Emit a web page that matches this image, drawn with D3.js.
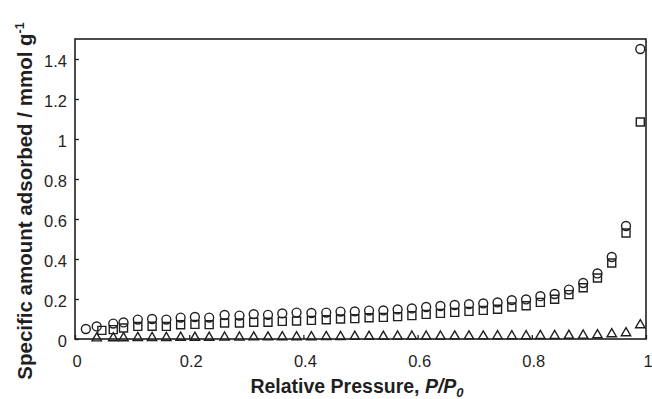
<!DOCTYPE html>
<html>
<head>
<meta charset="utf-8">
<script src="https://cdn.jsdelivr.net/npm/d3@7"></script>
<style>
  html, body { margin: 0; padding: 0; background: #fff; }
  svg { display: block; font-family: "Liberation Sans", Arial, sans-serif; }
</style>
</head>
<body>
<svg id="chart" width="652" height="399"></svg>
<script>
// Relative pressure (P/P0) for each isotherm
const circleP = [0.019, 0.038, 0.067, 0.085, 0.11, 0.135, 0.16, 0.185, 0.21, 0.235,
  0.262, 0.288, 0.313, 0.338, 0.363, 0.388, 0.414, 0.44, 0.465, 0.49,
  0.515, 0.54, 0.565, 0.59, 0.615, 0.64, 0.665, 0.69, 0.715, 0.74,
  0.765, 0.79, 0.815, 0.84, 0.865, 0.89, 0.915, 0.94, 0.965, 0.99];
const circleQ = [0.05, 0.063, 0.077, 0.083, 0.097, 0.1, 0.097, 0.107, 0.11, 0.107,
  0.12, 0.117, 0.124, 0.121, 0.128, 0.132, 0.13, 0.132, 0.137, 0.138,
  0.142, 0.143, 0.148, 0.153, 0.16, 0.165, 0.17, 0.174, 0.178, 0.183,
  0.194, 0.198, 0.214, 0.225, 0.247, 0.28, 0.328, 0.41, 0.565, 1.45];

const squareP = [0.047, 0.067, 0.085, 0.11, 0.135, 0.16, 0.185, 0.21, 0.235,
  0.262, 0.288, 0.313, 0.338, 0.363, 0.388, 0.414, 0.44, 0.465, 0.49,
  0.515, 0.54, 0.565, 0.59, 0.615, 0.64, 0.665, 0.69, 0.715, 0.74,
  0.765, 0.79, 0.815, 0.84, 0.865, 0.89, 0.915, 0.94, 0.965, 0.99];
const squareQ = [0.043, 0.047, 0.055, 0.063, 0.064, 0.063, 0.071, 0.073, 0.072,
  0.08, 0.08, 0.084, 0.084, 0.088, 0.09, 0.093, 0.096, 0.1, 0.102,
  0.106, 0.108, 0.112, 0.117, 0.123, 0.128, 0.133, 0.138, 0.143, 0.149,
  0.16, 0.166, 0.183, 0.199, 0.222, 0.256, 0.305, 0.38, 0.53, 1.085];

const triangleP = [0.038, 0.067, 0.085, 0.11, 0.135, 0.16, 0.185, 0.21, 0.235,
  0.262, 0.288, 0.313, 0.338, 0.363, 0.388, 0.414, 0.44, 0.465, 0.49,
  0.515, 0.54, 0.565, 0.59, 0.615, 0.64, 0.665, 0.69, 0.715, 0.74,
  0.765, 0.79, 0.815, 0.84, 0.865, 0.89, 0.915, 0.94, 0.965, 0.99];
const triangleQ = [0.004, 0.005, 0.005, 0.006, 0.006, 0.006, 0.007, 0.007, 0.007,
  0.008, 0.008, 0.009, 0.009, 0.01, 0.01, 0.01, 0.011, 0.011, 0.012,
  0.012, 0.012, 0.013, 0.013, 0.013, 0.013, 0.014, 0.014, 0.014, 0.015,
  0.015, 0.015, 0.016, 0.016, 0.017, 0.018, 0.02, 0.025, 0.03, 0.07];

const xTicks = [0, 0.2, 0.4, 0.6, 0.8, 1];
const yTicks = [0, 0.2, 0.4, 0.6, 0.8, 1, 1.2, 1.4];

const svg = d3.select("#chart");
const m = { left: 75, right: 646, top: 39, bottom: 339 };
const ink = "#1f1f1f";

const x = d3.scaleLinear().domain([0, 1]).range([m.left, m.right]);
const y = d3.scaleLinear().domain([0, 1.5]).range([m.bottom, m.top]);

// Axes with inward ticks
const xAxis = d3.axisTop(x).tickValues(xTicks).tickSize(4).tickFormat("");
const yAxis = d3.axisRight(y).tickValues(yTicks).tickSize(4).tickFormat("");

svg.append("g").attr("transform", `translate(0,${m.bottom})`).call(xAxis)
  .call(g => g.select(".domain").remove())
  .call(g => g.selectAll("line").attr("stroke", ink).attr("stroke-width", 1.3));
svg.append("g").attr("transform", `translate(${m.left},0)`).call(yAxis)
  .call(g => g.select(".domain").remove())
  .call(g => g.selectAll("line").attr("stroke", ink).attr("stroke-width", 1.3));

// Frame
svg.append("rect")
  .attr("x", x(0)).attr("y", y(1.5))
  .attr("width", x(1) - x(0)).attr("height", y(0) - y(1.5))
  .attr("fill", "none").attr("stroke", ink).attr("stroke-width", 1.6);

const fmt = v => (v === 0 || v === 1) ? String(v) : d3.format(".1f")(v);

// Tick labels
svg.append("g").selectAll("text").data(xTicks).join("text")
  .attr("x", d => x(d) + 2).attr("y", 367)
  .attr("text-anchor", "middle").attr("font-size", 16.5).attr("fill", ink)
  .text(fmt);
svg.append("g").selectAll("text").data(yTicks).join("text")
  .attr("x", m.left - 8).attr("y", d => y(d)).attr("dy", "0.48em")
  .attr("text-anchor", "end").attr("font-size", 16.5).attr("fill", ink)
  .text(fmt);

// Axis titles
const xt = svg.append("text")
  .attr("x", 357).attr("y", 393).attr("text-anchor", "middle")
  .attr("font-size", 19.5).attr("font-weight", "bold").attr("fill", ink);
xt.append("tspan").text("Relative Pressure, ");
xt.append("tspan").attr("font-style", "italic").text("P/P");
xt.append("tspan").attr("font-style", "italic").attr("font-size", 13).attr("dy", 4).text("0");

const yt = svg.append("text")
  .attr("transform", "translate(32,201) rotate(-90)").attr("text-anchor", "middle")
  .attr("font-size", 20.5).attr("font-weight", "bold").attr("fill", ink);
yt.append("tspan").text("Specific amount adsorbed / mmol g");
yt.append("tspan").attr("font-size", 12.5).attr("dy", -8).text("-1");

// Markers
function plot(px, qy, type, size) {
  const sym = d3.symbol().type(type).size(size);
  svg.append("g").selectAll("path").data(px.map((p, i) => [p, qy[i]])).join("path")
    .attr("transform", d => `translate(${x(d[0])},${y(d[1])})`)
    .attr("d", sym)
    .attr("fill", "none").attr("stroke", ink).attr("stroke-width", 1.4);
}
plot(triangleP, triangleQ, d3.symbolTriangle, 38);
plot(squareP, squareQ, d3.symbolSquare, 64);
plot(circleP, circleQ, d3.symbolCircle, 62);
</script>
</body>
</html>
